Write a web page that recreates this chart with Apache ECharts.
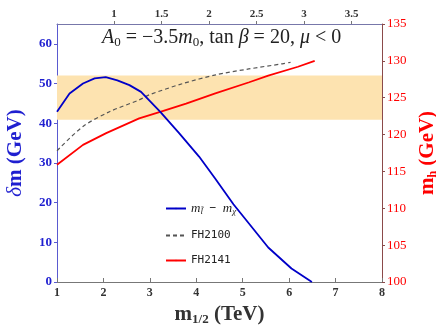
<!DOCTYPE html>
<html>
<head>
<meta charset="utf-8">
<script src="https://cdn.jsdelivr.net/npm/echarts@6/dist/echarts.min.js"></script>
<style>
  html, body { margin: 0; padding: 0; background: #fff; }
  #chart { width: 436px; height: 327px; }
</style>
</head>
<body>
<div id="chart"></div>
<script>
// m_{1/2} (TeV) vs delta m (GeV)
var deltaM = [
    [1.0, 42.9], [1.27, 47.5], [1.56, 50.0], [1.81, 51.3], [2.05, 51.6], [2.3, 50.8],
    [2.56, 49.6], [2.81, 47.9], [3.22, 42.9], [3.63, 37.5], [4.06, 31.6], [4.41, 26.0],
    [4.8, 19.6], [5.55, 8.7], [6.05, 3.4], [6.49, 0]
];
// m_h (GeV), FH2100
var fh2100 = [
    [1.0, 117.8], [1.56, 121.1], [2.13, 123.1], [2.77, 124.7], [2.99, 125.4], [3.7, 126.9],
    [4.42, 128.1], [5.13, 128.9], [5.85, 129.6], [6.03, 129.8]
];
// m_h (GeV), FH2141
var fh2141 = [
    [1.0, 115.9], [1.56, 118.6], [2.06, 120.2], [2.77, 122.2], [3.24, 123.1], [3.78, 124.2],
    [4.41, 125.6], [5.14, 127.1], [5.55, 128.0], [6.19, 129.2], [6.55, 130.0]
];
var topTicks = [1, 1.5, 2, 2.5, 3, 3.5];
var higgsBand = [122, 128];

var serif = 'Liberation Serif';
var blue = '#1f1fd0';
var red = '#ff0000';

var option = {
    animation: false,
    backgroundColor: '#fff',
    title: {
        text: '{i|A}{s|0} = −3.5{i|m}{s|0}, tan {i|β} = 20, {i|μ} < 0',
        left: 97, top: 22,
        textStyle: {
            fontFamily: serif, fontSize: 20, fontWeight: 'normal', color: '#222',
            rich: {
                i: { fontFamily: serif, fontStyle: 'italic', fontSize: 20, color: '#222' },
                s: { fontFamily: serif, fontSize: 13, color: '#222', verticalAlign: 'bottom', padding: [9, 0, 0, 0] }
            }
        }
    },
    legend: {
        orient: 'vertical',
        left: 160, top: 197,
        itemWidth: 20, itemHeight: 2, itemGap: 14,
        data: ['dm', 'FH2100', 'FH2141'],
        formatter: function (name) {
            if (name === 'dm') return '{i|m}{s|l̃} − {i|m}{s|χ}';
            return name;
        },
        textStyle: {
            fontFamily: 'DejaVu Sans Mono', fontSize: 11, color: '#222',
            rich: {
                i: { fontFamily: serif, fontStyle: 'italic', fontSize: 13, color: '#222' },
                s: { fontFamily: serif, fontStyle: 'italic', fontSize: 9, color: '#222', padding: [6, 0, 0, 0] }
            }
        }
    },
    grid: { left: 57, right: 54, top: 24, bottom: 45, outerBoundsMode: 'none', containLabel: false },
    xAxis: [
        {
            type: 'value', min: 1, max: 8, interval: 1,
            name: '{b|m}{s|1/2}{b| (TeV)}', nameLocation: 'middle', nameGap: 20,
            nameTextStyle: {
                rich: {
                    b: { fontFamily: serif, fontWeight: 'bold', fontSize: 21, color: '#333' },
                    s: { fontFamily: serif, fontWeight: 'bold', fontSize: 13, color: '#333', padding: [10, 0, 0, 0] }
                }
            },
            axisLine: { lineStyle: { color: '#777' } },
            axisTick: { inside: true, length: 4, lineStyle: { color: '#777' } },
            axisLabel: { fontFamily: serif, fontWeight: 'bold', fontSize: 12, color: '#333', margin: 5 },
            splitLine: { show: false }
        },
        {
            type: 'value', position: 'top', min: 0.4, max: 3.82,
            axisLine: { lineStyle: { color: '#7777aa' } },
            axisTick: { length: 3, customValues: topTicks, lineStyle: { color: '#777' } },
            axisLabel: { customValues: topTicks, fontFamily: serif, fontWeight: 'bold', fontSize: 11, color: '#333', margin: 4 },
            splitLine: { show: false }
        }
    ],
    yAxis: [
        {
            type: 'value', min: 0, max: 65, interval: 10,
            name: '{g|δ}{b|m (GeV)}', nameLocation: 'middle', nameGap: 31, nameRotate: 90,
            nameTextStyle: {
                rich: {
                    g: { fontFamily: serif, fontStyle: 'italic', fontSize: 21, color: blue },
                    b: { fontFamily: serif, fontWeight: 'bold', fontSize: 21, color: blue }
                }
            },
            axisLine: { show: true, lineStyle: { color: '#5a5ad0' } },
            axisTick: { show: true, length: 3, lineStyle: { color: '#5a5ad0' } },
            axisLabel: { showMaxLabel: false, fontFamily: serif, fontWeight: 'bold', fontSize: 13, color: blue, margin: 5 },
            splitLine: { show: false }
        },
        {
            type: 'value', min: 100, max: 135, interval: 5, position: 'right',
            name: '{b|m}{s|h}{b| (GeV)}', nameLocation: 'middle', nameGap: 33, nameRotate: 90,
            nameTextStyle: {
                rich: {
                    b: { fontFamily: serif, fontWeight: 'bold', fontSize: 21, color: red },
                    s: { fontFamily: serif, fontWeight: 'bold', fontSize: 12, color: red, padding: [10, 0, 0, 0] }
                }
            },
            axisLine: { show: true, lineStyle: { color: '#8b4a4a' } },
            axisTick: { show: true, length: 3, lineStyle: { color: '#8b4a4a' } },
            axisLabel: { fontFamily: serif, fontSize: 13, color: red, margin: 5 },
            splitLine: { show: false }
        }
    ],
    series: [
        {
            name: 'FH2100', type: 'line', yAxisIndex: 1, data: fh2100,
            symbol: 'none', smooth: 0.3,
            lineStyle: { color: '#555', width: 1.2, type: [4, 3] },
            itemStyle: { color: '#555' },
            markArea: {
                silent: true,
                itemStyle: { color: '#fde3b0' },
                data: [[{ yAxis: higgsBand[0] }, { yAxis: higgsBand[1] }]]
            },
            z: 3
        },
        {
            name: 'FH2141', type: 'line', yAxisIndex: 1, data: fh2141,
            symbol: 'none',
            lineStyle: { color: red, width: 1.8 },
            itemStyle: { color: red },
            z: 4
        },
        {
            name: 'dm', type: 'line', yAxisIndex: 0, data: deltaM,
            symbol: 'none',
            lineStyle: { color: '#0000c8', width: 1.8 },
            itemStyle: { color: '#0000c8' },
            z: 5
        }
    ]
};

var chart = echarts.init(document.getElementById('chart'), null, { renderer: 'canvas' });
chart.setOption(option);
</script>
</body>
</html>
